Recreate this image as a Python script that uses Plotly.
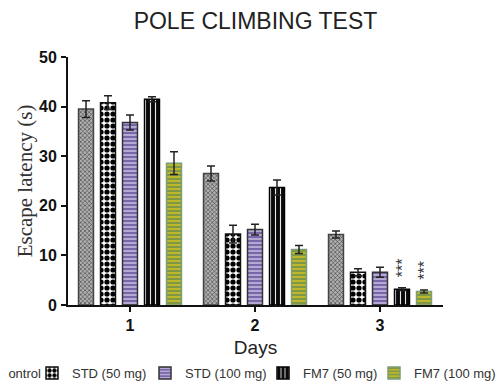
import plotly.graph_objects as go

days = [1, 2, 3]
groups = ["Control", "STD (50 mg)", "STD (100 mg)", "FM7 (50 mg)", "FM7 (100 mg)"]
control = [39.5, 26.5, 14.2]
control_err = [1.7, 1.5, 0.7]
std50 = [40.8, 14.3, 6.6]
std50_err = [1.4, 1.8, 0.7]
std100 = [36.8, 15.2, 6.6]
std100_err = [1.5, 1.1, 1.0]
fm7_50 = [41.5, 23.7, 3.2]
fm7_50_err = [0.5, 1.5, 0.3]
fm7_100 = [28.6, 11.2, 2.7]
fm7_100_err = [2.3, 0.8, 0.3]
signif_fm7_50 = ["", "", "\u00a0\u00a0***"]
signif_fm7_100 = ["", "", "\u00a0\u00a0***"]
y_ticks = [0, 10, 20, 30, 40, 50]

values = [control, std50, std100, fm7_50, fm7_100]
errors = [control_err, std50_err, std100_err, fm7_50_err, fm7_100_err]
texts = [None, None, None, signif_fm7_50, signif_fm7_100]

styles = [
    dict(bg="#b0b0b0", fg="#3a3a3a", shape="x", size=3, sol=0.35, line="#444444"),
    dict(bg="#ffffff", fg="#000000", shape=".", size=6, sol=0.6, line="#111111"),
    dict(bg="#7867a8", fg="#cfc6e6", shape="-", size=4, sol=0.35, line="#333333"),
    dict(bg="#0a0a0a", fg="#e8e8e8", shape="|", size=5, sol=0.22, line="#000000"),
    dict(bg="#bdb82a", fg="#6f8f4e", shape="-", size=4, sol=0.4, line="#7a9e78"),
]

# the page body has an 8px margin: figure is 8px smaller and all positions are shifted by 8px
off = 8
fig_w, fig_h = 504 - off, 381 - off
plot_l, plot_t, plot_w, plot_h = 68 - off, 57 - off, 375, 248
leg_px = [-41 - off, 32 - off, 145 - off, 263 - off, 374 - off]

fig = go.Figure()
for i, (name, vals, errs, st) in enumerate(zip(groups, values, errors, styles)):
    legend_id = "legend" if i == 0 else f"legend{i+1}"
    kw = {}
    if texts[i] is not None:
        kw = dict(text=texts[i], textposition="outside", textangle=-90,
                  constraintext="none",
                  textfont=dict(size=16, color="#333333", family="Liberation Sans"),
                  cliponaxis=False)
    fig.add_trace(go.Bar(
        x=days, y=vals, name=name, legend=legend_id, showlegend=True,
        marker=dict(color=st["bg"], line=dict(color=st["line"], width=1.5),
                    pattern=dict(shape=st["shape"], fgcolor=st["fg"], bgcolor=st["bg"],
                                 size=st["size"], solidity=st["sol"], fillmode="replace")),
        error_y=dict(type="data", array=errs, visible=True, color="#222222",
                     thickness=1.5, width=4),
        **kw,
    ))

legends = {}
for i, px in enumerate(leg_px):
    key = "legend" if i == 0 else f"legend{i+1}"
    legends[key] = dict(
        x=(px - plot_l) / plot_w, xref="paper", xanchor="left",
        y=1 - (373 - off) / fig_h, yref="container", yanchor="middle",
        orientation="h",
        font=dict(family="Liberation Sans", size=13, color="#333333"),
        bgcolor="rgba(0,0,0,0)", borderwidth=0,
    )

fig.update_layout(
    width=fig_w, height=fig_h, showlegend=True,
    paper_bgcolor="white", plot_bgcolor="white",
    margin=dict(l=plot_l, r=fig_w - plot_l - plot_w, t=plot_t, b=fig_h - plot_t - plot_h,
                autoexpand=False),
    barmode="group", bargap=0.12, bargroupgap=0.32,
    title=dict(text="POLE CLIMBING TEST", x=0.5, xref="paper", xanchor="center",
               y=1 - (21 - off) / fig_h, yanchor="middle",
               font=dict(family="Liberation Sans", size=23, color="#222222")),
    xaxis=dict(range=[0.504, 3.504], tickvals=days, ticktext=[str(d) for d in days],
               showline=True, linecolor="#111111", linewidth=2, ticks="outside",
               ticklen=5, tickwidth=2, tickcolor="#111111", showgrid=False, zeroline=False,
               tickfont=dict(family="Liberation Sans", size=16, color="#111111", weight="bold"),
               title=dict(text="Days", standoff=10,
                          font=dict(family="Liberation Sans", size=19, color="#222222"))),
    yaxis=dict(range=[0, 50], tickvals=y_ticks, showline=True, linecolor="#111111",
               linewidth=2, ticks="outside", ticklen=5, tickwidth=2, tickcolor="#111111",
               showgrid=False, zeroline=False, ticklabelstandoff=1,
               tickfont=dict(family="Liberation Sans", size=16, color="#111111", weight="bold"),
               title=dict(text="Escape latency (s)", standoff=1,
                          font=dict(family="Liberation Serif", size=21, color="#333333"))),
    **legends,
)

fig.write_html("out.html")
